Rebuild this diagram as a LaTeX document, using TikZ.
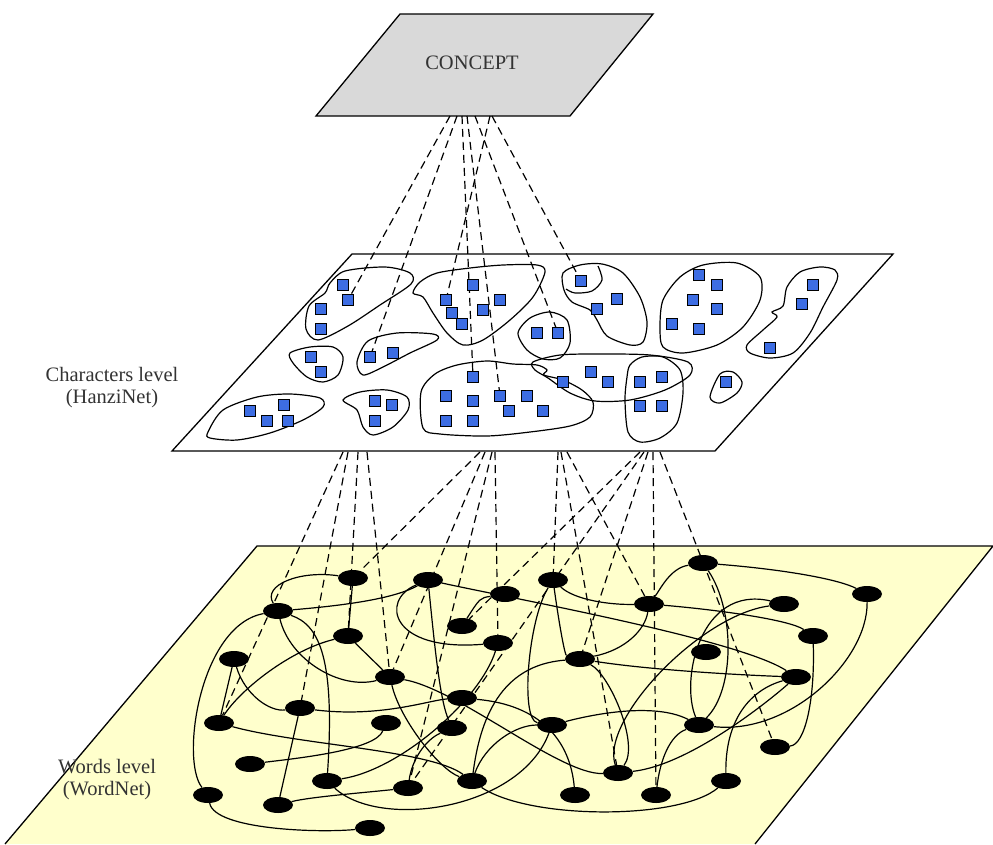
\documentclass[tikz,border=0pt]{standalone}
\usepackage{fontspec}
\setmainfont{Liberation Serif}
\usepackage{tikz}
\usetikzlibrary{shapes.geometric}
\definecolor{conceptgray}{HTML}{D9D9D9}
\definecolor{wordfill}{HTML}{FFFFCC}
\definecolor{hanziblue}{HTML}{3D6DE3}
\pgfdeclarelayer{back}
\pgfdeclarelayer{lines}
\pgfsetlayers{back,lines,main}
\tikzset{
  plane/.style={line width=1.3pt},
  word/.style={ellipse, fill=black, minimum width=30pt, minimum height=16pt, inner sep=0pt},
  hanzi/.style={rectangle, draw=black, fill=hanziblue, minimum size=10.5pt, inner sep=0pt, line width=0.8pt},
  link/.style={dash pattern=on 8pt off 5pt, line width=1.2pt},
  wire/.style={line width=1.2pt},
  blob/.style={line width=1.2pt},
  label/.style={align=center, text=black!80, font=\fontsize{20.5}{22}\selectfont}
}

\begin{document}
\begin{tikzpicture}[x=1pt, y=-1pt]
    \useasboundingbox (0,0) rectangle (993,844);

    \begin{pgfonlayer}{back}
    \fill[wordfill] (5,844) -- (257,546) -- (993,546) -- (755,844) -- cycle;
    \draw[plane] (5,844) -- (257,546) -- (993,546) -- (755,844);
    \draw[plane, fill=white] (172,451) -- (352,254) -- (893,254) -- (715,451) -- cycle;
    \draw[plane, fill=conceptgray] (316,116) -- (400,14) -- (653,14) -- (570,116) -- cycle;
    \end{pgfonlayer}

    \node[label] (concept) at (472,63) {CONCEPT};
    \node[label] (charlevel) at (112,388) {Characters level\\(HanziNet)};
    \node[label] (wordlevel) at (107,780) {Words level\\(WordNet)};

    % groups of characters
    \begin{pgfonlayer}{lines}
    \draw[blob] plot[smooth cycle] coordinates {(330,283) (345,271) (385,267) (410,273) (411,284) (380,305) (348,326) (318,340) (306,329) (309,306) (325,293)};
    \draw[blob] plot[smooth cycle] coordinates {(290,353) (310,347) (333,347) (343,357) (338,375) (323,382) (307,377) (293,363)};
    \draw[blob] plot[smooth cycle] coordinates {(357,362) (368,341) (397,333) (433,334) (437,340) (410,353) (383,367) (363,375)};
    \draw[blob] plot[smooth cycle] coordinates {(208,432) (223,410) (257,397) (290,394) (320,398) (323,407) (303,420) (270,433) (237,440) (210,438)};
    \draw[blob] plot[smooth cycle] coordinates {(343,400) (360,392) (387,390) (407,397) (408,410) (393,427) (373,435) (363,427) (357,410)};
    \draw[blob] plot[smooth cycle] coordinates {(413,293) (420,282) (437,273) (470,268) (503,265) (537,265) (545,272) (533,297) (510,320) (483,340) (463,345) (447,333) (433,313) (423,297)};
    \draw[blob] plot[smooth cycle] coordinates {(518,333) (530,318) (550,312) (567,320) (570,343) (560,358) (543,359) (527,350)};
    \draw[blob] plot[smooth cycle] coordinates {(423,428) (421,392) (435,374) (457,365) (487,361) (513,364) (537,365) (547,370) (544,375) (563,380) (582,390) (593,402) (590,417) (570,426) (530,432) (487,436) (440,434)};
    \draw[blob] plot[smooth cycle] coordinates {(533,362) (560,355) (600,354) (650,355) (688,362) (690,375) (665,390) (630,400) (595,401) (570,393) (548,378) (535,370)};
    \draw[blob] plot[smooth cycle] coordinates {(630,365) (642,357) (663,357) (680,370) (683,393) (677,423) (660,438) (640,442) (628,432) (625,400) (627,377)};
    \draw[blob] plot[smooth cycle] coordinates {(563,273) (580,265) (602,264) (623,273) (640,297) (647,322) (643,342) (630,345) (607,336) (597,320) (590,310) (572,302) (564,290)};
    \draw[blob] plot[smooth] coordinates {(598,266) (602,280) (592,291) (575,293) (566,289)};
    \draw[blob] plot[smooth cycle] coordinates {(660,327) (663,300) (680,277) (703,265) (737,263) (760,277) (760,300) (743,327) (717,345) (683,353) (663,347)};
    \draw[blob] plot[smooth cycle] coordinates {(787,287) (800,272) (820,267) (835,270) (837,280) (823,307) (810,333) (793,353) (770,358) (750,353) (747,345) (763,330) (777,317) (772,312) (783,306)};
    \draw[blob] plot[smooth cycle] coordinates {(710,397) (720,374) (733,372) (742,382) (737,393) (720,403)};
    \end{pgfonlayer}

    % characters
    \foreach \x/\y [count=\i] in {343/285, 348/300, 321/309, 321/329, 311/357, 321/372, 370/357, 393/353,
        250/411, 267/421, 284/405, 288/421, 375/401, 392/405, 375/421, 473/285, 446/300, 452/313,
        462/324, 483/310, 500/300, 537/333, 558/333, 473/377, 446/396, 473/401, 500/396, 527/396,
        509/411, 543/411, 446/421, 473/421, 563/382, 581/281, 597/309, 617/299, 591/372, 608/382,
        640/382, 662/377, 640/406, 662/406, 699/275, 717/285, 693/300, 717/309, 672/324, 699/329,
        813/285, 802/304, 770/348, 726/382}
      \node[hanzi] (q\i) at (\x,\y) {};

    % words
    \foreach \n/\x/\y in {w1/353/578, w2/428/580, w3/505/594, w4/553/580, w5/278/611, w6/348/636,
        w7/462/626, w8/498/643, w9/234/659, w10/390/677, w11/580/659, w12/462/698, w13/300/708,
        w14/219/723, w15/386/723, w16/452/728, w17/552/725, w18/250/764, w19/327/781, w20/408/788,
        w21/472/781, w22/208/795, w23/278/805, w24/575/795, w25/370/828, w26/703/563, w27/867/594,
        w28/649/604, w29/784/604, w30/813/636, w31/706/652, w32/796/677, w33/699/725, w34/775/747,
        w35/618/773, w36/726/781, w37/656/795}
      \node[word] (\n) at (\x,\y) {};

    \begin{pgfonlayer}{lines}
    \foreach \x/\t [count=\i] in {450/q2, 457/q7, 490/q17, 462/q24, 467/q27, 475/q23, 492/q34} {
      \coordinate (cp\i) at (\x,116);
      \draw[link] (cp\i) -- (\t);
    }
    \foreach \x/\t [count=\i] in {343/w14, 348/w13, 358/w6, 367/w10, 480/w1, 485/w10, 492/w20, 495/w8,
        558/w4, 561/w35, 567/w28, 640/w7, 644/w20, 648/w11, 653/w37, 660/w34} {
      \coordinate (hp\i) at (\x,452);
      \draw[link] (hp\i) -- (\t);
    }

    \draw[wire] (w1) -- (w6);
    \draw[wire] (w5) .. controls (262,585) and (300,570) .. (w1);
    \draw[wire] (w5) .. controls (350,605) and (395,598) .. (w2);
    \draw[wire] (w2) .. controls (380,600) and (390,652) .. (w8);
    \draw[wire] (w2) .. controls (435,650) and (440,700) .. (w16);
    \draw[wire] (w2) .. controls (520,600) and (740,640) .. (w32);
    \draw[wire] (w3) .. controls (480,598) .. (w7);
    \draw[wire] (w4) .. controls (528,620) and (520,720) .. (w17);
    \draw[wire] (w4) .. controls (560,630) and (565,655) .. (w11);
    \draw[wire] (w4) .. controls (575,600) and (610,605) .. (w28);
    \draw[wire] (w6) .. controls (290,650) and (240,690) .. (w14);
    \draw[wire] (w6) -- (w10);
    \draw[wire] (w5) .. controls (290,660) and (340,690) .. (w10);
    \draw[wire] (w5) .. controls (320,625) and (335,660) .. (w19);
    \draw[wire] (w5) .. controls (200,625) and (180,760) .. (w22);
    \draw[wire] (w9) -- (w14);
    \draw[wire] (w9) .. controls (245,695) and (270,712) .. (w13);
    \draw[wire] (w13) .. controls (380,718) and (430,700) .. (w12);
    \draw[wire] (w14) .. controls (300,745) and (430,750) .. (w21);
    \draw[wire] (w15) .. controls (375,750) and (300,758) .. (w18);
    \draw[wire] (w16) .. controls (425,740) and (412,760) .. (w20);
    \draw[wire] (w13) -- (w23);
    \draw[wire] (w19) .. controls (400,770) and (480,700) .. (w8);
    \draw[wire] (w19) .. controls (380,830) and (520,810) .. (w17);
    \draw[wire] (w20) .. controls (360,793) and (310,797) .. (w23);
    \draw[wire] (w21) .. controls (485,745) and (515,725) .. (w17);
    \draw[wire] (w21) .. controls (530,820) and (680,820) .. (w36);
    \draw[wire] (w22) .. controls (215,830) and (320,833) .. (w25);
    \draw[wire] (w12) .. controls (540,705) and (570,740) .. (w24);
    \draw[wire] (w11) .. controls (500,665) and (480,720) .. (w21);
    \draw[wire] (w10) .. controls (400,720) and (440,770) .. (w21);
    \draw[wire] (w10) .. controls (460,690) and (560,775) .. (w35);
    \draw[wire] (w17) .. controls (610,710) and (660,705) .. (w33);
    \draw[wire] (w11) .. controls (650,670) and (740,675) .. (w32);
    \draw[wire] (w11) .. controls (625,650) and (645,630) .. (w28);
    \draw[wire] (w11) .. controls (610,675) and (640,745) .. (w35);
    \draw[wire] (w35) .. controls (600,720) and (700,615) .. (w29);
    \draw[wire] (w26) .. controls (670,568) and (660,590) .. (w28);
    \draw[wire] (w26) .. controls (790,570) and (840,580) .. (w27);
    \draw[wire] (w26) .. controls (735,610) and (735,690) .. (w33);
    \draw[wire] (w28) .. controls (720,610) and (790,620) .. (w30);
    \draw[wire] (w27) .. controls (868,660) and (790,735) .. (w33);
    \draw[wire] (w29) .. controls (700,585) and (680,680) .. (w33);
    \draw[wire] (w30) .. controls (815,700) and (805,745) .. (w34);
    \draw[wire] (w32) .. controls (750,690) and (725,720) .. (w36);
    \draw[wire] (w33) .. controls (670,735) and (660,760) .. (w37);
    \draw[wire] (w35) .. controls (690,765) and (770,700) .. (w32);
    \end{pgfonlayer}
  \end{tikzpicture}
\end{document}
